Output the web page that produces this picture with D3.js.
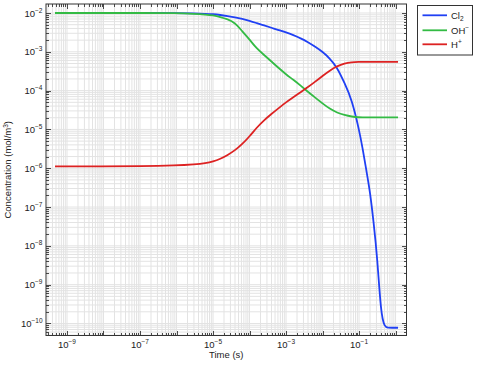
<!DOCTYPE html>
<html><head><meta charset="utf-8">
<script src="https://cdn.jsdelivr.net/npm/d3@7"></script>
<style>body{margin:0;background:#fff;} text{font-family:"Liberation Sans",Arial,sans-serif;}</style>
</head><body><svg id="c" width="494" height="368"></svg>
<script>
// time points (s)
const time = [4.7e-10,1e-8,1e-7,1e-6,3.16e-6,6.3e-6,1e-5,1.58e-5,2.51e-5,3.98e-5,6.3e-5,1e-4,1.58e-4,2.51e-4,3.98e-4,6.3e-4,1e-3,1.58e-3,2.51e-3,3.98e-3,6.3e-3,1e-2,1.58e-2,2.51e-2,3.98e-2,6.3e-2,0.1,0.126,0.158,0.2,0.251,0.316,0.398,0.501,0.631,0.794,1.17];
// log10 of concentration (mol/m^3)
const cl2Log = [-2.0,-2.0,-2.0,-2.0,-2.01,-2.02,-2.03,-2.05,-2.08,-2.11,-2.15,-2.2,-2.26,-2.32,-2.38,-2.44,-2.5,-2.57,-2.65,-2.75,-2.87,-3.0,-3.17,-3.4,-3.8,-4.22,-5.0,-5.5,-6.05,-6.6,-7.4,-8.3,-9.75,-10.1,-10.11,-10.11,-10.11];
const ohLog = [-2.0,-2.0,-2.0,-2.0,-2.02,-2.04,-2.06,-2.1,-2.16,-2.25,-2.47,-2.68,-2.92,-3.08,-3.25,-3.42,-3.58,-3.72,-3.87,-4.03,-4.18,-4.33,-4.47,-4.57,-4.63,-4.67,-4.69,-4.69,-4.69,-4.69,-4.69,-4.69,-4.69,-4.69,-4.69,-4.69,-4.69];
const hLog = [-5.95,-5.95,-5.95,-5.93,-5.9,-5.87,-5.83,-5.76,-5.66,-5.54,-5.38,-5.18,-4.95,-4.76,-4.6,-4.45,-4.3,-4.17,-4.04,-3.91,-3.77,-3.62,-3.48,-3.37,-3.3,-3.27,-3.26,-3.26,-3.26,-3.26,-3.26,-3.26,-3.26,-3.26,-3.26,-3.26,-3.26];
const seriesNames = ["Cl2","OH-","H+"];
const seriesColors = ["#2040f4","#33bb44","#dd2222"];
const xTickExps = [-9,-7,-5,-3,-1];
const yTickExps = [-2,-3,-4,-5,-6,-7,-8,-9,-10];

const svg = d3.select("#c");
const L=46, R=406.5, T=4, B=335.5;
const x = d3.scaleLog().domain([Math.pow(10,-9.575), Math.pow(10,0.3)]).range([L,R]);
const y = d3.scaleLog().domain([Math.pow(10,-10.31), Math.pow(10,-1.768)]).range([B,T]);

function allTicks(scale, lo, hi){
  const out=[]; const d=scale.domain();
  for(let e=lo;e<=hi;e++) for(let k=1;k<=9;k++){const v=k*Math.pow(10,e); if(v>=d[0]&&v<=d[1]) out.push(v);}
  return out;
}
const xAll = allTicks(x,-10,0), yAll = allTicks(y,-11,-1);
const isMajor = v => Math.abs(Math.log10(v)-Math.round(Math.log10(v)))<1e-9;

// grid
const g = svg.append("g");
g.selectAll(".gx").data(xAll).enter().append("line")
  .attr("x1",d=>x(d)).attr("x2",d=>x(d)).attr("y1",T).attr("y2",B)
  .attr("stroke","#e3e3e3").attr("stroke-width",1);
g.selectAll(".gy").data(yAll).enter().append("line")
  .attr("y1",d=>y(d)).attr("y2",d=>y(d)).attr("x1",L).attr("x2",R)
  .attr("stroke","#e3e3e3").attr("stroke-width",1);

// curves
const line = d3.line().x(d=>x(d[0])).y(d=>y(d[1])).curve(d3.curveBasis);
[cl2Log, ohLog, hLog].forEach((arr,i)=>{
  const pts = time.map((t,j)=>[t, Math.pow(10,arr[j])]);
  svg.append("path").attr("d",line(pts)).attr("fill","none")
    .attr("stroke",seriesColors[i]).attr("stroke-width",1.8);
});

// axes with inward ticks
function styleAxis(sel){
  sel.select(".domain").remove();
  sel.selectAll(".tick line").attr("stroke","#222").attr("stroke-width",0.8)
    .attr("shape-rendering","crispEdges");
  sel.selectAll(".tick text").remove();
}
function addAxis(axisFn, scale, vals, transform, sign){
  const ga = svg.append("g").attr("transform",transform)
    .call(axisFn(scale).tickValues(vals).tickSize(0).tickFormat(""));
  ga.selectAll(".tick line").each(function(d){
    const len = isMajor(d)?5:3;
    const el=d3.select(this);
    if(axisFn===d3.axisBottom||axisFn===d3.axisTop) el.attr("y2", sign*len); else el.attr("x2", sign*len);
  });
  styleAxis(ga);
}
addAxis(d3.axisBottom, x, xAll, `translate(0,${B})`, -1);
addAxis(d3.axisTop, x, xAll, `translate(0,${T})`, 1);
addAxis(d3.axisLeft, y, yAll, `translate(${L},0)`, 1);
addAxis(d3.axisRight, y, yAll, `translate(${R},0)`, -1);

svg.append("rect").attr("x",L).attr("y",T).attr("width",R-L).attr("height",B-T)
  .attr("fill","none").attr("stroke","#333").attr("stroke-width",1);

// tick labels
function powLabel(parent, xp, yp, e, anchor){
  const t = parent.append("text").attr("x",xp).attr("y",yp).attr("text-anchor",anchor)
    .attr("font-size",9.5).attr("fill","#222");
  t.append("tspan").text("10");
  t.append("tspan").attr("dy",-4).attr("font-size",6.5).text("\u2212"+Math.abs(e));
}
xTickExps.forEach(e=>powLabel(svg, x(Math.pow(10,e)), 347.5, e, "middle"));
yTickExps.forEach(e=>powLabel(svg, 42.5, y(Math.pow(10,e))+3.5, e, "end"));

// axis titles
svg.append("text").attr("x",(L+R)/2).attr("y",357.5).attr("text-anchor","middle")
  .attr("font-size",9.5).attr("fill","#222").text("Time (s)");
const yt = svg.append("text").attr("transform",`translate(11,${(T+B)/2}) rotate(-90)`)
  .attr("text-anchor","middle").attr("font-size",9.5).attr("fill","#222");
yt.append("tspan").text("Concentration (mol/m");
yt.append("tspan").attr("dy",-3).attr("font-size",6.5).text("3");
yt.append("tspan").attr("dy",3).text(")");

// legend
const lg = svg.append("g");
lg.append("rect").attr("x",417.5).attr("y",5.5).attr("width",55).attr("height",49.5)
  .attr("fill","#fff").attr("stroke","#333").attr("stroke-width",1);
const legY = [15.3,30.3,44.3];
seriesNames.forEach((n,i)=>{
  lg.append("line").attr("x1",422.5).attr("x2",447).attr("y1",legY[i]).attr("y2",legY[i])
    .attr("stroke",seriesColors[i]).attr("stroke-width",1.8);
  const t = lg.append("text").attr("x",451).attr("y",legY[i]+3.3).attr("font-size",9.5).attr("fill","#222");
  if(i===0){ t.append("tspan").text("Cl"); t.append("tspan").attr("dy",2).attr("font-size",6.5).text("2"); }
  if(i===1){ t.append("tspan").text("OH"); t.append("tspan").attr("dy",-3.5).attr("font-size",6.5).text("\u2212"); }
  if(i===2){ t.append("tspan").text("H"); t.append("tspan").attr("dy",-3.5).attr("font-size",6.5).text("+"); }
});
</script></body></html>
